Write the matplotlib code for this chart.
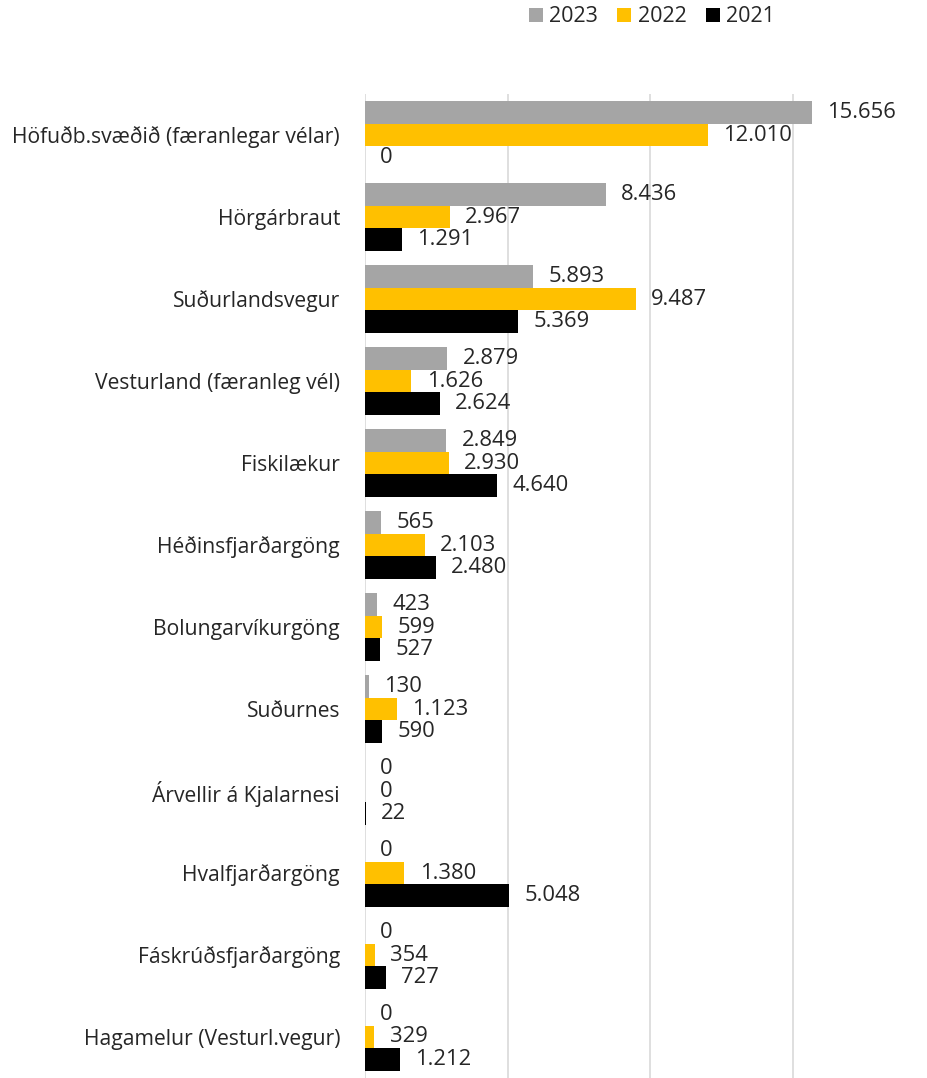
import numpy as np
import matplotlib
matplotlib.use("Agg")
import matplotlib.pyplot as plt

plt.rcParams['font.family'] = ['Open Sans', 'DejaVu Sans']

categories = ["Höfuðb.svæðið (færanlegar vélar)", "Hörgárbraut", "Suðurlandsvegur",
              "Vesturland (færanleg vél)", "Fiskilækur", "Héðinsfjarðargöng",
              "Bolungarvíkurgöng", "Suðurnes", "Árvellir á Kjalarnesi",
              "Hvalfjarðargöng", "Fáskrúðsfjarðargöng", "Hagamelur (Vesturl.vegur)"]
v2023 = [15656, 8436, 5893, 2879, 2849, 565, 423, 130, 0, 0, 0, 0]
v2022 = [12010, 2967, 9487, 1626, 2930, 2103, 599, 1123, 0, 1380, 354, 329]
v2021 = [0, 1291, 5369, 2624, 4640, 2480, 527, 590, 22, 5048, 727, 1212]
series = [("2023", v2023, "#A5A5A5"), ("2022", v2022, "#FFC000"), ("2021", v2021, "#000000")]

def fmt(v):
    return f"{v:,}".replace(",", ".")

fig = plt.figure(figsize=(9.27, 10.78), dpi=100)
ax = fig.add_axes([365/927, 0, 1 - 365/927, (1078 - 94)/1078])

y = np.arange(len(categories))
h = 0.28
txt = "#262626"
for k, (name, vals, col) in enumerate(series):
    pos = y + (k - 1) * h
    ax.barh(pos, vals, height=h, color=col, label=name, zorder=3)
    for p, v in zip(pos, vals):
        ax.annotate(fmt(v), (v, p), xytext=(11, 0), textcoords="offset points",
                    ha="left", va="center", fontsize=15.8, color=txt)

ax.set_xlim(0, 19700)
ax.set_ylim(len(categories) - 0.5, -0.5)
ax.set_xticks([0, 5000, 10000, 15000])
ax.xaxis.grid(True, color="#D9D9D9", linewidth=1.2, zorder=0)
ax.set_xticklabels([])
ax.tick_params(axis="x", length=0)
ax.set_yticks(y)
ax.set_yticklabels(categories, fontsize=15.2, color=txt)
ax.tick_params(axis="y", length=0, pad=18)
for s in ax.spines.values():
    s.set_visible(False)

fig.legend(loc="center", bbox_to_anchor=(652/927, 1 - 17/1078), ncol=3, frameon=False,
           fontsize=15.5, handlelength=0.65, handleheight=0.65, handletextpad=0.3,
           columnspacing=0.9, labelcolor=txt)

fig.savefig("out.png", dpi=100)
